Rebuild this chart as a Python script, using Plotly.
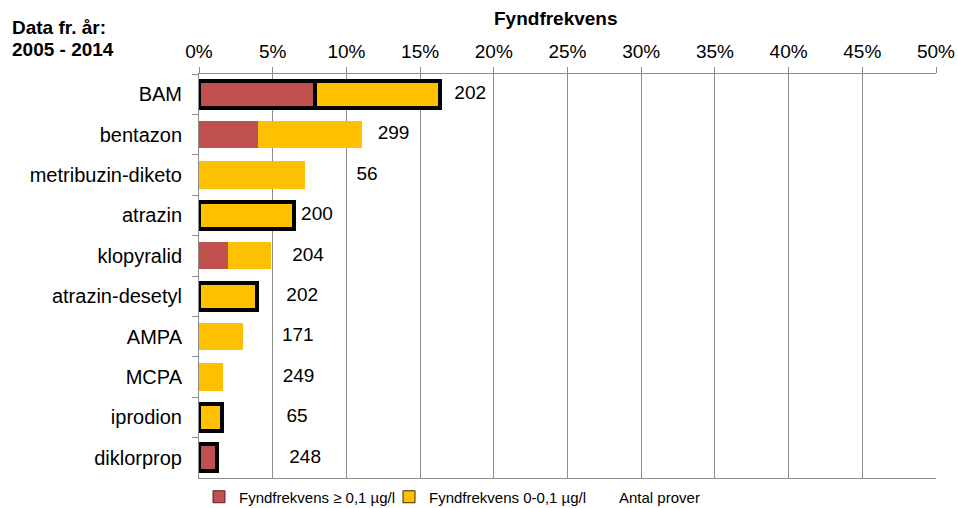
import plotly.graph_objects as go

# Data
kategorier = ['BAM', 'bentazon', 'metribuzin-diketo', 'atrazin', 'klopyralid',
              'atrazin-desetyl', 'AMPA', 'MCPA', 'iprodion', 'diklorprop']
over_01 = [7.9, 4.0, 0, 0, 1.95, 0, 0, 0, 0, 1.2]          # Fyndfrekvens >= 0,1 ug/l (%)
under_01 = [8.45, 7.05, 7.2, 6.45, 2.95, 3.95, 3.0, 1.6, 1.55, 0]  # Fyndfrekvens 0-0,1 ug/l (%)
antal_prover = [202, 299, 56, 200, 204, 202, 171, 249, 65, 248]
antal_pos = [18.4, 13.2, 11.4, 8.0, 7.4, 7.0, 6.7, 6.75, 6.65, 7.2]  # where Excel put the labels (%)
markerad = [True, False, False, True, False, True, False, False, True, True]
x_ticks = [0, 5, 10, 15, 20, 25, 30, 35, 40, 45, 50]

FONT = 'Liberation Sans, Arial, sans-serif'
GRID = '#8c8c8c'
RED = '#C0504D'
YELLOW = '#FFC000'

lw = [4 if m else 0 for m in markerad]

fig = go.Figure()
fig.add_trace(go.Bar(
    y=kategorier, x=over_01, orientation='h', name='Fyndfrekvens ≥ 0,1 µg/l',
    marker=dict(color=RED, line=dict(color='black', width=lw)),
    width=0.67, showlegend=False,
))
fig.add_trace(go.Bar(
    y=kategorier, x=under_01, orientation='h', name='Fyndfrekvens 0-0,1 µg/l',
    marker=dict(color=YELLOW, line=dict(color='black', width=lw)),
    width=0.67, showlegend=False,
))
fig.add_trace(go.Scatter(
    y=kategorier, x=antal_pos, mode='text', text=[str(v) for v in antal_prover],
    textfont=dict(size=19, color='black', family=FONT), showlegend=False,
    cliponaxis=False, hoverinfo='skip',
))

# legend-only entries (thin borders like the Excel legend)
fig.add_trace(go.Bar(y=[None], x=[None], orientation='h', name='Fyndfrekvens ≥ 0,1 µg/l',
                     marker=dict(color=RED, line=dict(color='#5a2322', width=1))))
fig.add_trace(go.Bar(y=[None], x=[None], orientation='h', name='Fyndfrekvens 0-0,1 µg/l',
                     marker=dict(color=YELLOW, line=dict(color='#3a2c00', width=1))))
fig.add_trace(go.Bar(y=[None], x=[None], orientation='h', name='Antal prover',
                     marker=dict(color='rgba(0,0,0,0)', line=dict(width=0))))

fig.update_layout(
    barmode='stack',
    width=958, height=508,
    margin=dict(l=199, r=22, t=74, b=30, autoexpand=False),
    paper_bgcolor='white', plot_bgcolor='white',
    font=dict(family=FONT, size=19, color='black'),
    showlegend=True,
    legend=dict(orientation='h', x=0.0, xanchor='left', y=-0.047, yanchor='middle',
                font=dict(size=15), entrywidth=145, entrywidthmode='pixels',
                itemwidth=30, traceorder='normal'),
    annotations=[
        dict(text='<b>Fyndfrekvens</b>', xref='paper', yref='paper', x=0.485, y=1.0,
             yshift=56, xanchor='center', yanchor='middle', showarrow=False,
             font=dict(size=19)),
        dict(text='<b>Data fr. år:</b>', xref='paper', yref='paper',
             x=(10 - 199) / 737, y=1.0, yshift=47, xanchor='left', yanchor='middle',
             showarrow=False, font=dict(size=19)),
        dict(text='<b>2005 - 2014</b>', xref='paper', yref='paper',
             x=(10 - 199) / 737, y=1.0, yshift=25, xanchor='left', yanchor='middle',
             showarrow=False, font=dict(size=19)),
    ],
)

fig.update_xaxes(
    side='top', range=[0, 50], tickvals=x_ticks,
    ticktext=[f'{v}%' for v in x_ticks],
    showgrid=True, gridcolor=GRID, gridwidth=1,
    showline=True, linecolor=GRID, linewidth=1, mirror=True,
    ticks='outside', ticklen=6, tickcolor=GRID, ticklabelstandoff=1,
    zeroline=False, fixedrange=True, automargin=False,
)
fig.update_yaxes(
    autorange='reversed', type='category', tickson='boundaries',
    showline=True, linecolor=GRID, linewidth=1,
    ticks='outside', ticklen=6, tickcolor=GRID, ticklabelstandoff=12,
    tickfont=dict(size=20),
    showgrid=False, fixedrange=True, automargin=False,
)

# the page's default 8px body margin would shift the figure, so drop it
fig.write_html('out.html', config={'displayModeBar': False},
               post_script="document.body.style.margin='0';")
